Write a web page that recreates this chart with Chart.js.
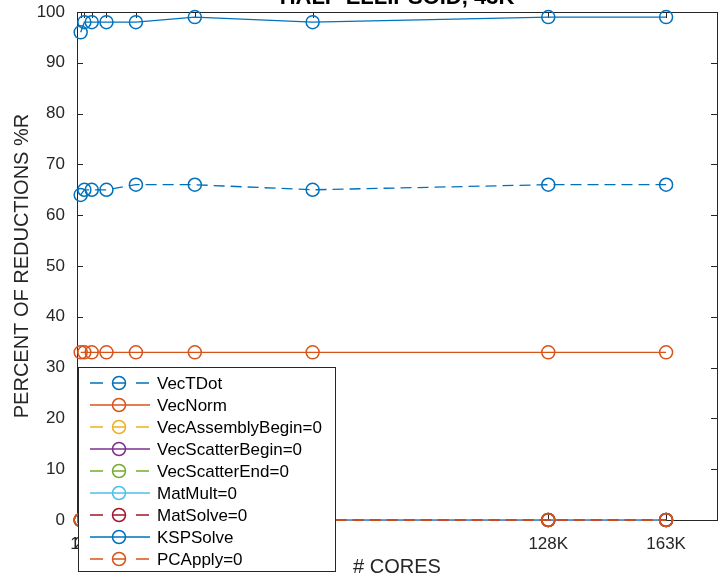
<!DOCTYPE html>
<html>
<head>
<meta charset="utf-8">
<script src="https://cdn.jsdelivr.net/npm/chart.js@4.4.1/dist/chart.umd.min.js"></script>
<style>
  html, body { margin: 0; padding: 0; background: #fff; overflow: hidden; }
  canvas { display: block; }
</style>
</head>
<body>
<canvas id="reductionChart" width="725" height="580"></canvas>
<script>
// core counts (x) and their tick labels
const cores = [1024, 2048, 4096, 8192, 16384, 32768, 65536, 131072, 163840];
const coreLabels = ['1K', '2K', '4K', '8K', '16K', '32K', '64K', '128K', '163K'];
const yTicks = [0, 10, 20, 30, 40, 50, 60, 70, 80, 90, 100];

// percent of reductions per routine
const vecTDot = [64, 65, 65, 65, 66, 66, 65, 66, 66];
const vecNorm = [33, 33, 33, 33, 33, 33, 33, 33, 33];
const vecAssemblyBegin = [0, 0, 0, 0, 0, 0, 0, 0, 0];
const vecScatterBegin = [0, 0, 0, 0, 0, 0, 0, 0, 0];
const vecScatterEnd = [0, 0, 0, 0, 0, 0, 0, 0, 0];
const matMult = [0, 0, 0, 0, 0, 0, 0, 0, 0];
const matSolve = [0, 0, 0, 0, 0, 0, 0, 0, 0];
const kspSolve = [96, 98, 98, 98, 98, 99, 98, 99, 99];
const pcApply = [0, 0, 0, 0, 0, 0, 0, 0, 0];

const textColor = '#262626';
const dash = [11, 6];

function series(label, values, color, dashed) {
    return {
        label: label,
        data: values.map((v, i) => ({ x: cores[i], y: v })),
        borderColor: color,
        borderWidth: 1.3,
        borderDash: dashed ? dash : [],
        pointStyle: 'circle',
        pointRadius: 6.5,
        pointBorderWidth: 1.5,
        pointBorderColor: color,
        pointBackgroundColor: 'rgba(0,0,0,0)',
        fill: false,
        tension: 0,
        clip: false
    };
}

const datasets = [
    series('VecTDot', vecTDot, '#0072BD', true),
    series('VecNorm', vecNorm, '#D95319', false),
    series('VecAssemblyBegin=0', vecAssemblyBegin, '#EDB120', true),
    series('VecScatterBegin=0', vecScatterBegin, '#7E2F8E', false),
    series('VecScatterEnd=0', vecScatterEnd, '#77AC30', true),
    series('MatMult=0', matMult, '#4DBEEE', false),
    series('MatSolve=0', matSolve, '#A2142F', true),
    series('KSPSolve', kspSolve, '#0072BD', false),
    series('PCApply=0', pcApply, '#D95319', true)
];
// later series drawn on top, like the original plot
datasets.forEach((d, i) => { d.order = datasets.length - i; });

// title sits partly above the canvas edge
const titlePlugin = {
    id: 'cutTitle',
    afterDraw(chart) {
        const ctx = chart.ctx;
        const area = chart.chartArea;
        ctx.save();
        ctx.font = 'bold 22px "Liberation Sans", Arial, sans-serif';
        ctx.fillStyle = '#000';
        ctx.textAlign = 'center';
        ctx.textBaseline = 'alphabetic';
        ctx.fillText('HALF-ELLIPSOID, 43K', (area.left + area.right) / 2, 4);
        ctx.restore();
    }
};

// box and inward tick marks, under the data
const boxPlugin = {
    id: 'box',
    beforeDatasetsDraw(chart) {
        const ctx = chart.ctx;
        const a = chart.chartArea;
        const xs = chart.scales.x;
        const ys = chart.scales.y;
        ctx.save();
        ctx.strokeStyle = textColor;
        ctx.lineWidth = 1;
        ctx.beginPath();
        xs.ticks.forEach(t => {
            const px = Math.round(xs.getPixelForValue(t.value)) + 0.5;
            ctx.moveTo(px, a.top); ctx.lineTo(px, a.top + 6);
            ctx.moveTo(px, a.bottom); ctx.lineTo(px, a.bottom - 6);
        });
        ys.ticks.forEach(t => {
            const py = Math.round(ys.getPixelForValue(t.value)) + 0.5;
            ctx.moveTo(a.left, py); ctx.lineTo(a.left + 6, py);
            ctx.moveTo(a.right, py); ctx.lineTo(a.right - 6, py);
        });
        ctx.stroke();
        ctx.strokeRect(Math.round(a.left) + 0.5, Math.round(a.top) + 0.5,
            Math.round(a.right - a.left), Math.round(a.bottom - a.top));
        ctx.restore();
    }
};

// legend box in the lower left, over the plot
const legendPlugin = {
    id: 'boxLegend',
    afterDraw(chart) {
        const ctx = chart.ctx;
        const sets = chart.data.datasets;
        const left = 78, top = 367, width = 257, rowH = 22;
        const height = rowH * sets.length + 6;
        ctx.save();
        ctx.fillStyle = '#fff';
        ctx.fillRect(left, top, width, height);
        ctx.strokeStyle = textColor;
        ctx.lineWidth = 1;
        ctx.strokeRect(left + 0.5, top + 0.5, width, height);
        ctx.font = '17px "Liberation Sans", Arial, sans-serif';
        ctx.textBaseline = 'middle';
        ctx.textAlign = 'left';
        sets.forEach((d, i) => {
            const y = top + 16 + i * rowH;
            ctx.strokeStyle = d.borderColor;
            ctx.lineWidth = 1.3;
            ctx.setLineDash(d.borderDash.length ? [13, 10] : []);
            ctx.beginPath();
            ctx.moveTo(90, y); ctx.lineTo(150, y);
            ctx.stroke();
            ctx.setLineDash([]);
            ctx.lineWidth = 1.5;
            ctx.beginPath();
            ctx.arc(119, y, 6.5, 0, Math.PI * 2);
            ctx.stroke();
            ctx.fillStyle = '#000';
            ctx.fillText(d.label, 157, y + 1);
        });
        ctx.restore();
    }
};

const ctx = document.getElementById('reductionChart').getContext('2d');
new Chart(ctx, {
    type: 'line',
    data: { datasets: datasets },
    options: {
        responsive: false,
        animation: false,
        devicePixelRatio: 1,
        layout: { padding: { top: 12, right: 2, left: 0, bottom: 0 } },
        plugins: {
            legend: { display: false },
            tooltip: { enabled: false }
        },
        scales: {
            x: {
                type: 'linear',
                min: 0,
                max: 178000,
                afterBuildTicks: scale => { scale.ticks = cores.map(v => ({ value: v })); },
                afterFit: scale => {
                    scale.height = 60;
                    scale.paddingLeft = 0;
                    scale.paddingRight = 0;
                },
                ticks: {
                    autoSkip: false,
                    maxRotation: 0,
                    padding: 6,
                    color: textColor,
                    font: { family: '"Liberation Sans", Arial, sans-serif', size: 17 },
                    callback: (value, index) => coreLabels[index]
                },
                grid: { display: false },
                border: { display: false },
                title: {
                    display: true,
                    text: '# CORES',
                    color: textColor,
                    padding: 0,
                    font: { family: '"Liberation Sans", Arial, sans-serif', size: 20, lineHeight: 1.3 }
                }
            },
            y: {
                min: 0,
                max: 100,
                afterBuildTicks: scale => { scale.ticks = yTicks.map(v => ({ value: v })); },
                afterFit: scale => {
                    scale.width = 77;
                    scale.paddingTop = 0;
                    scale.paddingBottom = 0;
                },
                ticks: {
                    padding: 4,
                    color: textColor,
                    font: { family: '"Liberation Sans", Arial, sans-serif', size: 17 }
                },
                grid: { display: false },
                border: { display: false },
                title: {
                    display: true,
                    text: 'PERCENT OF REDUCTIONS %R',
                    color: textColor,
                    padding: 0,
                    font: { family: '"Liberation Sans", Arial, sans-serif', size: 20, lineHeight: 2.2 }
                }
            }
        }
    },
    plugins: [boxPlugin, titlePlugin, legendPlugin]
});
</script>
</body>
</html>
